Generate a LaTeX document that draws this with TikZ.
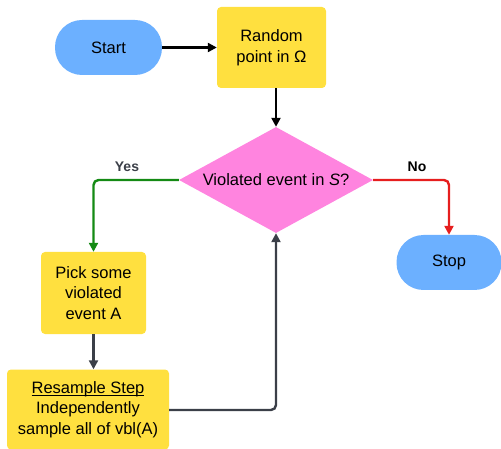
\documentclass[tikz,border=0pt]{standalone}
\usepackage{fontspec}
\setmainfont{Liberation Sans}
\usetikzlibrary{shapes.geometric,arrows.meta}
\definecolor{pillblue}{HTML}{6CB0FF}
\definecolor{boxyellow}{HTML}{FFE03F}
\definecolor{diapink}{HTML}{FF84DF}
\definecolor{yesgreen}{HTML}{148A14}
\definecolor{nored}{HTML}{E61E1E}
\definecolor{linegray}{HTML}{3B3F48}
\newcommand\myul[1]{\setbox0\hbox{#1}\rlap{\rule[-2.6pt]{\wd0}{1pt}}\box0}
\tikzset{
  pill/.style={fill=pillblue, rounded corners=27pt, minimum width=107pt, minimum height=55pt, inner sep=0pt, font=\fontsize{16.5}{20}\selectfont},
  ybox/.style={fill=boxyellow, rounded corners=4pt, inner sep=0pt, align=center, font=\fontsize{16.5}{20.5}\selectfont},
  dia/.style={diamond, aspect=1.83, fill=diapink, minimum width=194pt, minimum height=106pt, inner sep=0pt, font=\fontsize{16.5}{20}\selectfont},
  conn/.style={line width=2.4pt, rounded corners=5pt, -{Triangle[length=9pt,width=9pt]}},
  lbl/.style={font=\bfseries\fontsize{14}{16}\selectfont}
}
\begin{document}
\begin{tikzpicture}[x=1pt,y=-1pt]
\useasboundingbox (0,0) rectangle (501,449);
\node[pill] (start) at (108.5,47.5) {Start};
\node[ybox, minimum width=109pt, minimum height=81pt] (rand) at (271.5,47.5) {Random\\point in Ω};
\node[dia] (d) at (276,180) {\makebox[120pt]{Violated event in \textit{S}?}};
\node[pill, minimum width=105pt] (stop) at (449,262.5) {Stop};
\node[ybox, minimum width=105pt, minimum height=82pt] (pick) at (93.5,293) {Pick some\\violated\\event A};
\node[ybox, minimum width=162pt, minimum height=80pt] (res) at (88,409.5) {\myul{Resample Step}\\Independently\\sample all of vbl(A)};
\draw[conn, black] (start.east) -- (rand.west);
\draw[conn, black] (rand.south -| d.north) -- (d.north);
\draw[conn, yesgreen] (d.west) -| (pick.north);
\draw[conn, nored] (d.east) -| (stop.north);
\draw[conn, linegray] (pick.south) -- (pick.south |- res.north);
\draw[conn, linegray] (res.east |- 0,410) -| (d.south);
\node[lbl, text=linegray] (yes) at (127,167) {Yes};
\node[lbl] (no) at (417,167) {No};
\end{tikzpicture}
\end{document}
